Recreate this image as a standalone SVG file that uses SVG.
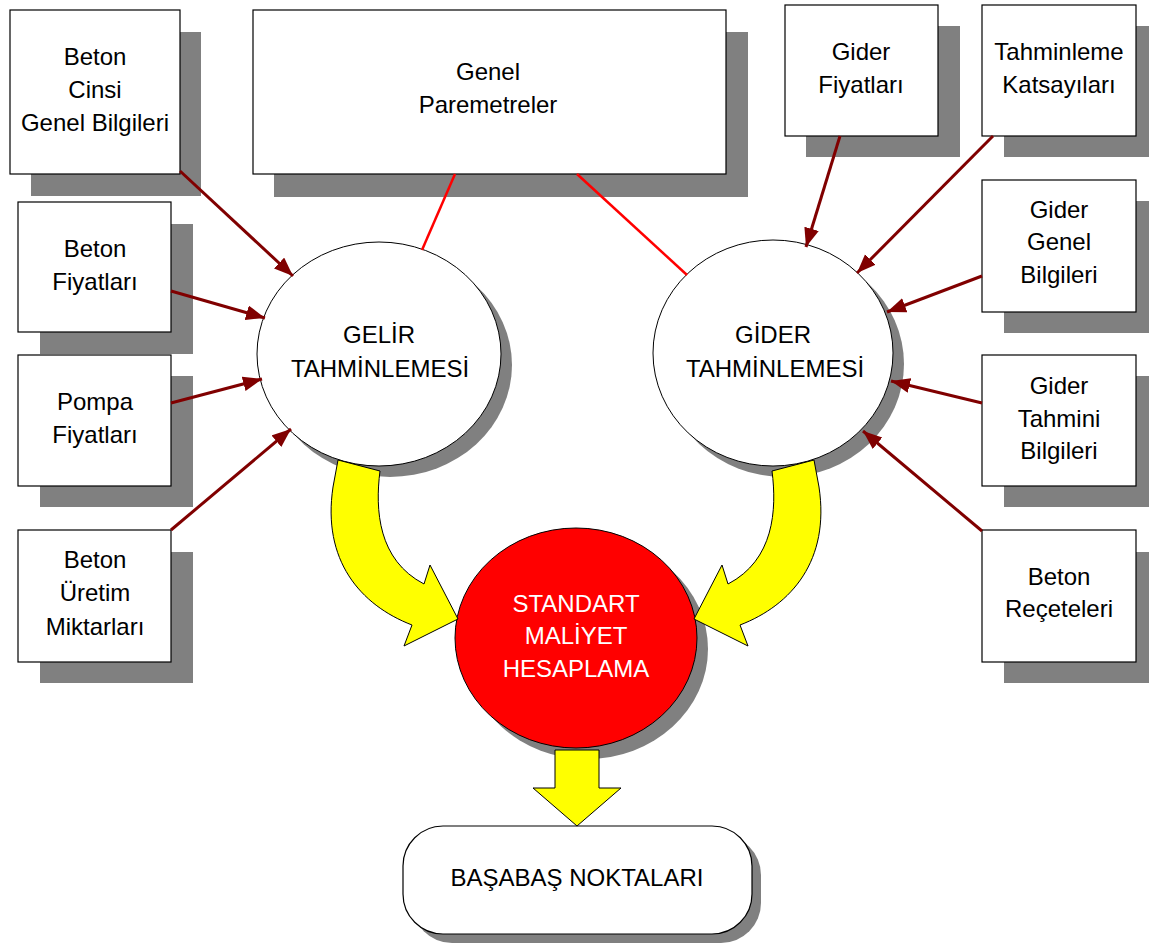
<svg xmlns="http://www.w3.org/2000/svg" width="1149" height="944" viewBox="0 0 1149 944">
<style>
.sh{fill:#808080;stroke:none}
.bx{fill:#fff;stroke:#000;stroke-width:1.2}
.el{fill:#fff;stroke:#000;stroke-width:1}
.t{font-family:"Liberation Sans",Arial,sans-serif;font-size:24px;fill:#000;text-anchor:middle}
.tw{fill:#fff}
.c{stroke:#800000;stroke-width:3;fill:none;marker-end:url(#ah)}
.r{stroke:#ff0000;stroke-width:2.5;fill:none}
.y{fill:#ffff00;stroke:#000;stroke-width:1}
</style>
<defs>
<marker id="ah" markerUnits="userSpaceOnUse" markerWidth="20" markerHeight="16" refX="19" refY="7.5" orient="auto">
<path d="M0,0 L19,7.5 L0,15 z" fill="#800000"/>
</marker>
</defs>
<rect width="1149" height="944" fill="#fff"/>

<g id="n-beton-cinsi">
<rect class="sh" x="31" y="32" width="170" height="164"/>
<rect class="bx" x="10" y="10" width="170" height="164"/>
<text class="t" x="95" y="65">Beton</text>
<text class="t" x="95" y="98">Cinsi</text>
<text class="t" x="95" y="131">Genel Bilgileri</text>
</g>
<g id="n-beton-fiyat">
<rect class="sh" x="40" y="224" width="153" height="130"/>
<rect class="bx" x="18" y="202" width="153" height="130"/>
<text class="t" x="95" y="257">Beton</text>
<text class="t" x="95" y="290">Fiyatları</text>
</g>
<g id="n-pompa">
<rect class="sh" x="40" y="376" width="153" height="131"/>
<rect class="bx" x="18" y="355" width="153" height="131"/>
<text class="t" x="95" y="410">Pompa</text>
<text class="t" x="95" y="443">Fiyatları</text>
</g>
<g id="n-uretim">
<rect class="sh" x="40" y="552" width="153" height="131"/>
<rect class="bx" x="18" y="530" width="153" height="132"/>
<text class="t" x="95" y="568">Beton</text>
<text class="t" x="95" y="601">Üretim</text>
<text class="t" x="95" y="635">Miktarları</text>
</g>
<g id="n-genel-param">
<rect class="sh" x="274" y="32" width="474" height="165"/>
<rect class="bx" x="253" y="10" width="473" height="164"/>
<text class="t" x="488" y="80">Genel</text>
<text class="t" x="488" y="113">Paremetreler</text>
</g>
<g id="n-gider-fiyat">
<rect class="sh" x="806" y="26" width="154" height="131"/>
<rect class="bx" x="785" y="5" width="153" height="131"/>
<text class="t" x="861" y="60">Gider</text>
<text class="t" x="861" y="93">Fiyatları</text>
</g>
<g id="n-katsayi">
<rect class="sh" x="1004" y="26" width="154" height="131"/>
<rect class="bx" x="982" y="5" width="154" height="131"/>
<text class="t" x="1059" y="60">Tahminleme</text>
<text class="t" x="1059" y="93">Katsayıları</text>
</g>
<g id="n-gider-genel">
<rect class="sh" x="1004" y="201" width="154" height="132"/>
<rect class="bx" x="982" y="180" width="154" height="132"/>
<text class="t" x="1059" y="218">Gider</text>
<text class="t" x="1059" y="250">Genel</text>
<text class="t" x="1059" y="283">Bilgileri</text>
</g>
<g id="n-gider-tahmini">
<rect class="sh" x="1004" y="376" width="154" height="131"/>
<rect class="bx" x="982" y="355" width="154" height="131"/>
<text class="t" x="1059" y="394">Gider</text>
<text class="t" x="1059" y="427">Tahmini</text>
<text class="t" x="1059" y="459">Bilgileri</text>
</g>
<g id="n-recete">
<rect class="sh" x="1004" y="552" width="154" height="131"/>
<rect class="bx" x="982" y="530" width="154" height="132"/>
<text class="t" x="1059" y="585">Beton</text>
<text class="t" x="1059" y="617">Reçeteleri</text>
</g>

<g id="n-gelir">
<ellipse class="sh" cx="390" cy="365" rx="122" ry="112"/>
<ellipse class="el" cx="379" cy="354" rx="122" ry="112"/>
<text class="t" x="379" y="343">GELİR</text>
<text class="t" x="380" y="377">TAHMİNLEMESİ</text>
</g>
<g id="n-gider">
<ellipse class="sh" cx="784" cy="364" rx="120" ry="113"/>
<ellipse class="el" cx="773" cy="353" rx="120" ry="113"/>
<text class="t" x="773" y="343">GİDER</text>
<text class="t" x="775" y="377">TAHMİNLEMESİ</text>
</g>
<g id="n-standart">
<ellipse class="sh" cx="587" cy="649" rx="121" ry="110"/>
<ellipse cx="576" cy="638" rx="121" ry="110" fill="#ff0000" stroke="#000" stroke-width="1"/>
<text class="t tw" x="576" y="612">STANDART</text>
<text class="t tw" x="576" y="644">MALİYET</text>
<text class="t tw" x="576" y="677">HESAPLAMA</text>
</g>
<g id="n-basabas">
<rect class="sh" x="412" y="835" width="349" height="108" rx="40" ry="40"/>
<rect class="bx" x="403" y="826" width="349" height="108" rx="40" ry="40"/>
<text class="t" x="577" y="886">BAŞABAŞ NOKTALARI</text>
</g>

<g id="connectors">
<line class="r" x1="455" y1="174" x2="422" y2="250"/>
<line class="r" x1="577" y1="174" x2="687" y2="275"/>
<line class="c" x1="180" y1="171" x2="293" y2="276"/>
<line class="c" x1="171" y1="291" x2="265" y2="318"/>
<line class="c" x1="171" y1="403" x2="262" y2="379"/>
<line class="c" x1="171" y1="530" x2="291" y2="429"/>
<line class="c" x1="840" y1="136" x2="806" y2="247"/>
<line class="c" x1="993" y1="136" x2="857" y2="273"/>
<line class="c" x1="982" y1="276" x2="887" y2="312"/>
<line class="c" x1="982" y1="403" x2="891" y2="381"/>
<line class="c" x1="982" y1="531" x2="863" y2="431"/>
<path class="y" d="M338,460 L380,471 C375,510 378,560 424,584 L430,565 L458,619 L404,646 L412,625 C360,605 322,560 333,487 Z"/>
<path class="y" d="M814,460 L772,471 C777,510 774,560 728,584 L722,565 L694,619 L748,646 L740,625 C792,605 830,560 819,487 Z"/>
<polygon class="y" points="555,750 599,750 599,788 621,788 577,826 533,788 555,788"/>
</g>
</svg>
